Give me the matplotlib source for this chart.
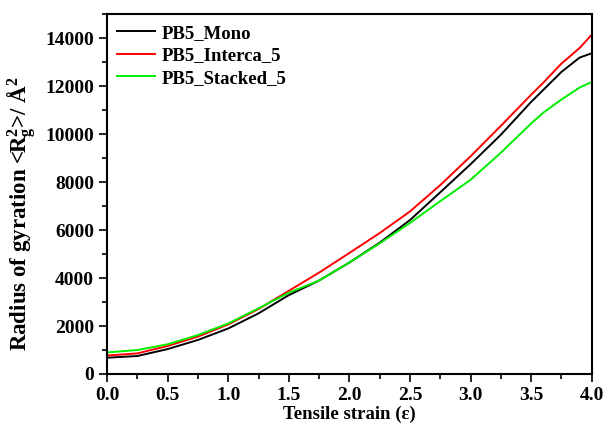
import matplotlib
matplotlib.use("Agg")
import matplotlib.pyplot as plt
from matplotlib.ticker import MultipleLocator, FormatStrFormatter

plt.rcParams["font.family"] = ["Liberation Serif", "DejaVu Serif"]
plt.rcParams["font.weight"] = "bold"
plt.rcParams["mathtext.fontset"] = "custom"
plt.rcParams["mathtext.rm"] = "Liberation Serif:bold"
plt.rcParams["mathtext.it"] = "Liberation Serif:bold"
plt.rcParams["mathtext.bf"] = "Liberation Serif:bold"

# tensile strain
strain = [0.0, 0.25, 0.5, 0.75, 1.0, 1.25, 1.5, 1.75, 2.0, 2.25, 2.5,
          2.75, 3.0, 3.25, 3.5, 3.6, 3.75, 3.9, 4.0]

# <Rg^2> values
mono = [680, 750, 1040, 1420, 1900, 2530, 3290, 3900, 4650, 5480, 6420,
        7580, 8750, 9980, 11350, 11850, 12600, 13200, 13380]
interca = [770, 860, 1170, 1560, 2070, 2710, 3470, 4230, 5050, 5880, 6780,
           7880, 9080, 10350, 11650, 12150, 12950, 13600, 14150]
stacked = [900, 1000, 1240, 1625, 2110, 2740, 3390, 3900, 4650, 5450, 6300,
           7210, 8100, 9230, 10450, 10900, 11450, 11950, 12180]

labels = ["PB5_Mono", "PB5_Interca_5", "PB5_Stacked_5"]
colors = ["black", "red", "#00ee00"]

fig = plt.figure(figsize=(6.05, 4.25), dpi=100)
ax = fig.add_axes([0.177, 0.12, 0.801, 0.846])

for ys, lab, c in zip([mono, interca, stacked], labels, colors):
    ax.plot(strain, ys, color=c, lw=1.4, label=lab)

ax.set_xlim(0, 4.0)
ax.set_ylim(0, 15000)
ax.xaxis.set_major_locator(MultipleLocator(0.5))
ax.xaxis.set_minor_locator(MultipleLocator(0.25))
ax.xaxis.set_major_formatter(FormatStrFormatter("%.1f"))
ax.yaxis.set_major_locator(MultipleLocator(2000))
ax.yaxis.set_minor_locator(MultipleLocator(1000))
ax.tick_params(which="major", direction="out", length=6, width=1.2, labelsize=14)
ax.tick_params(which="minor", direction="out", length=3.5, width=1.2)
for s in ax.spines.values():
    s.set_linewidth(1.5)

ax.set_xlabel("Tensile strain (ε)", fontsize=13.5, fontweight="bold", labelpad=1)
ax.set_ylabel("Radius of gyration <R$_g^2$>/ Å$^2$", fontsize=16.5,
              fontweight="bold")
ax.yaxis.set_label_coords(-0.142, 0.445)

ax.legend(loc="upper left", frameon=False, prop={"size": 13.5, "weight": "bold"},
          handlelength=2.0, handletextpad=0.35, labelspacing=0.28,
          borderaxespad=0.15)

fig.savefig("out.png", dpi=100)
